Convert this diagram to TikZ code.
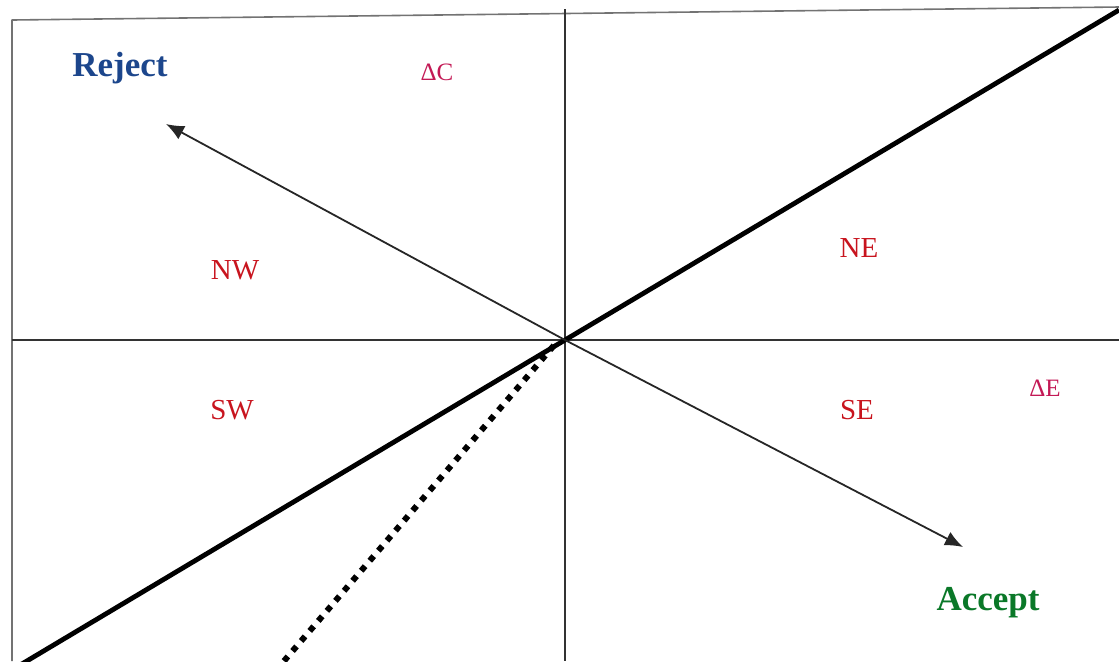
\documentclass[tikz,border=0pt]{standalone}
\usepackage{fontspec}
\setmainfont{Liberation Serif}
\usetikzlibrary{arrows.meta}
\definecolor{rejectblue}{RGB}{28,70,140}
\definecolor{acceptgreen}{RGB}{10,120,40}
\definecolor{quadred}{RGB}{200,20,30}
\definecolor{deltared}{RGB}{195,25,85}
\begin{document}
\begin{tikzpicture}[
  x=0.5pt, y=-0.5pt,
  line join=round,
  axis/.style={draw=black!80, line width=1pt},
  frameline/.style={draw=black!55, line width=0.8pt},
  frontier/.style={draw=black, line width=2.4pt},
  dotline/.style={draw=black, line width=3pt, dash pattern=on 3pt off 3.6pt},
  choice/.style={-{Latex[length=9pt,width=7.5pt]}, draw=black!85, line width=0.9pt},
  decision/.style={font=\fontsize{17.5}{20}\selectfont\bfseries},
  quad/.style={text=quadred, font=\fontsize{14.5}{17}\selectfont},
  delta/.style={text=deltared, font=\fontsize{12.5}{15}\selectfont}
]
\useasboundingbox (0,0) rectangle (1119,661);
% frame and axes
\coordinate (fBL) at (12,661);
\coordinate (fTL) at (12,20);
\coordinate (fTR) at (1119,7);
\draw[frameline] (fBL) -- (fTL) -- (fTR);
\coordinate (o) at (565,340);
\coordinate (yTop) at (565,9);
\coordinate (yBot) at (565,661);
\coordinate (xL) at (12,340);
\coordinate (xR) at (1119,340);
\draw[axis] (yTop) -- (yBot);
\draw[axis] (xL) -- (xR);
% threshold lines
\coordinate (tBL) at (0,677);
\coordinate (tTR) at (1119,10);
\draw[frontier] (tBL) -- (o) -- (tTR);
\coordinate (dBot) at (284,661);
\coordinate (dTop) at (556,343);
\draw[dotline] (dBot) -- (dTop);
% decision arrows
\coordinate (rejTip) at (166,124);
\coordinate (accTip) at (963,547);
\draw[choice] (o) -- (rejTip);
\draw[choice] (o) -- (accTip);
% labels
\node[decision, text=rejectblue] (reject) at (120,68) {Reject};
\node[decision, text=acceptgreen] (accept) at (988,603) {Accept};
\node[delta] (dC) at (437,72) {ΔC};
\node[delta] (dE) at (1045,388) {ΔE};
\node[quad] (nw) at (235,270) {NW};
\node[quad] (ne) at (859,248) {NE};
\node[quad] (sw) at (232,410) {SW};
\node[quad] (se) at (857,410) {SE};
\end{tikzpicture}
\end{document}
